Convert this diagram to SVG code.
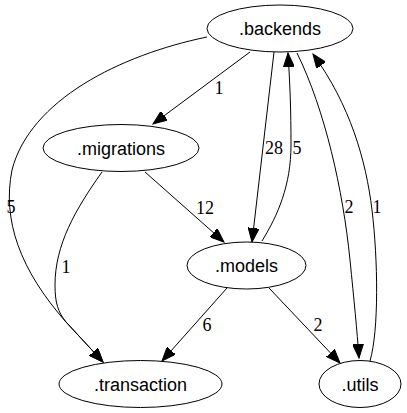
<svg xmlns="http://www.w3.org/2000/svg" width="407" height="413" viewBox="0 0 407 413">
<style>
.node ellipse{fill:#fff;stroke:#000;stroke-width:1}
.node text{font-family:"Liberation Sans",Arial,sans-serif;font-size:18px;text-anchor:middle;fill:#000}
.edge path{fill:none;stroke:#000;stroke-width:1;marker-end:url(#arr)}
.lbl{font-family:"Liberation Serif","Times New Roman",serif;font-size:18px;text-anchor:middle;fill:#000}
</style>
<defs>
<marker id="arr" markerUnits="userSpaceOnUse" markerWidth="15" markerHeight="11" refX="14" refY="5.5" orient="auto">
<path d="M0,0 L14,5.5 L0,11 z" fill="#000" stroke="#000" stroke-width="1"/>
</marker>
</defs>
<rect width="407" height="413" fill="#fff"/>
<g id="connectors">
<g class="edge"><path d="M250,52 L153,124"/><text class="lbl" x="219" y="94">1</text></g>
<g class="edge"><path d="M207,37 C120,55 30,100 12,170 C2,220 20,270 66,322 L103,362"/><text class="lbl" x="11" y="213">5</text></g>
<g class="edge"><path d="M102,172 C75,210 55,245 55,285 C55,303 58,312 66,322 L103,362"/><text class="lbl" x="66" y="273">1</text></g>
<g class="edge"><path d="M274,52 L252,242"/><text class="lbl" x="274" y="154">28</text></g>
<g class="edge"><path d="M262,241 C278,215 291,185 291,145 C291,110 290,85 288,53"/><text class="lbl" x="297" y="154">5</text></g>
<g class="edge"><path d="M297,53 C325,110 343,190 350,260 C354,300 357,330 359,358"/><text class="lbl" x="349" y="213">2</text></g>
<g class="edge"><path d="M370,361 C379,330 378,260 372,210 C366,160 350,105 313,54"/><text class="lbl" x="377" y="213">1</text></g>
<g class="edge"><path d="M145,172 L224,242"/><text class="lbl" x="205" y="214">12</text></g>
<g class="edge"><path d="M227,288 L162,361"/><text class="lbl" x="207" y="331">6</text></g>
<g class="edge"><path d="M269,288 L340,363"/><text class="lbl" x="318" y="331">2</text></g>
</g>
<g id="backends" class="node"><ellipse cx="280" cy="28.5" rx="73" ry="23.5"/><text x="280" y="35">.backends</text></g>
<g id="migrations" class="node"><ellipse cx="121" cy="148" rx="78" ry="23.5"/><text x="121" y="154.5">.migrations</text></g>
<g id="models" class="node"><ellipse cx="246.5" cy="265.5" rx="59.5" ry="23.5"/><text x="246.5" y="272">.models</text></g>
<g id="transaction" class="node"><ellipse cx="140.5" cy="384" rx="81.5" ry="23.5"/><text x="140.5" y="390.5">.transaction</text></g>
<g id="utils" class="node"><ellipse cx="360" cy="384" rx="41" ry="23.5"/><text x="360" y="390.5">.utils</text></g>
</svg>
